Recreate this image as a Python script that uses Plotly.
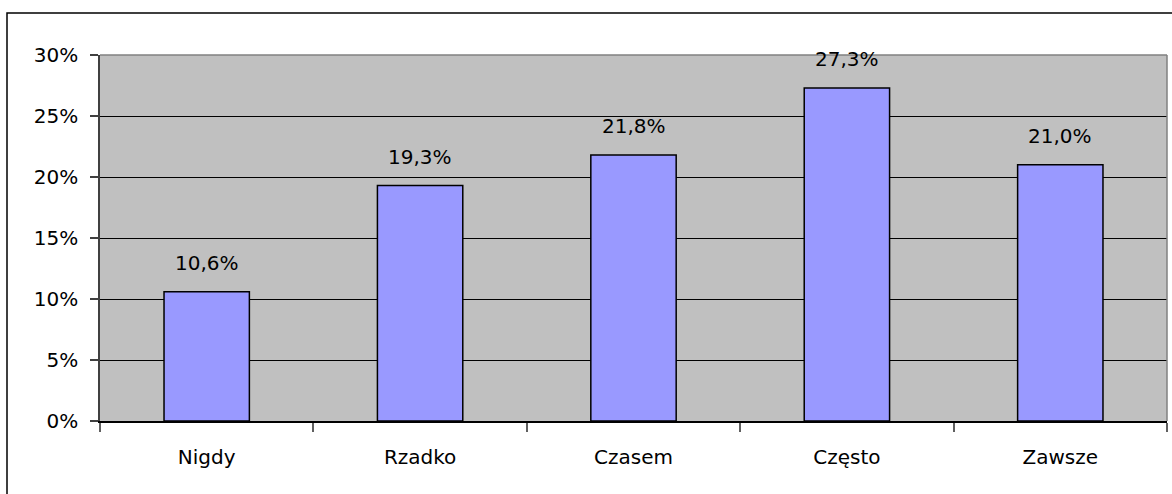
import plotly.graph_objects as go

categories = ["Nigdy", "Rzadko", "Czasem", "Często", "Zawsze"]
values = [10.6, 19.3, 21.8, 27.3, 21.0]
labels = ["10,6%", "19,3%", "21,8%", "27,3%", "21,0%"]
y_ticks = [0, 5, 10, 15, 20, 25, 30]
y_ticktext = ["0%", "5%", "10%", "15%", "20%", "25%", "30%"]

FONT = "DejaVu Sans, Arial, sans-serif"
FS = 20

fig = go.Figure()
fig.add_trace(go.Bar(
    x=categories, y=values,
    marker=dict(color="#9999FF", line=dict(color="black", width=1.5)),
    width=0.4,
    hoverinfo="skip",
))

for c, v, t in zip(categories, values, labels):
    fig.add_annotation(x=c, y=v, text=t, showarrow=False, yanchor="middle",
                       yshift=29, font=dict(family=FONT, size=FS, color="black"))

W, H = 1172, 494
L, R, T, B = 100, 5, 55, 73
pw = W - L - R
ph = H - T - B

def px_x(p):
    return (p - L) / pw

def px_y(p):
    return (H - B - p) / ph

# outer chart border
fig.add_shape(type="rect", xref="paper", yref="paper",
              x0=px_x(7), x1=px_x(1190), y0=px_y(520), y1=px_y(13),
              line=dict(color="black", width=1.5), layer="below")
# plot area top and right border (gray)
fig.add_shape(type="line", xref="paper", yref="paper", x0=0, x1=1, y0=1, y1=1,
              line=dict(color="#808080", width=1.5), layer="above")
fig.add_shape(type="line", xref="paper", yref="paper", x0=1, x1=1, y0=0, y1=1,
              line=dict(color="#808080", width=1.5), layer="above")

fig.update_layout(
    width=W, height=H,
    margin=dict(l=L, r=R, t=T, b=B, pad=0),
    paper_bgcolor="white",
    plot_bgcolor="#C0C0C0",
    showlegend=False,
    font=dict(family=FONT, size=FS, color="black"),
    bargap=0.6,
)
fig.update_xaxes(
    type="category", range=[-0.5, 4.5],
    showline=True, linecolor="black", linewidth=1.5,
    ticks="outside", tickson="boundaries", ticklen=9, tickcolor="#606060", tickwidth=1.5,
    ticklabelstandoff=17,
    tickfont=dict(family=FONT, size=FS, color="black"),
    showgrid=False, zeroline=False,
)
fig.update_yaxes(
    range=[0, 30], tickvals=y_ticks, ticktext=y_ticktext,
    showline=True, linecolor="#404040", linewidth=1.5,
    ticks="outside", ticklen=8, tickcolor="#404040", tickwidth=1.5,
    ticklabelstandoff=8,
    showgrid=True, gridcolor="black", gridwidth=1,
    zeroline=False,
    tickfont=dict(family=FONT, size=FS, color="black"),
)

fig.write_html("out.html", config={"displayModeBar": False},
               post_script="document.body.style.margin='0';document.body.style.overflow='hidden';")
